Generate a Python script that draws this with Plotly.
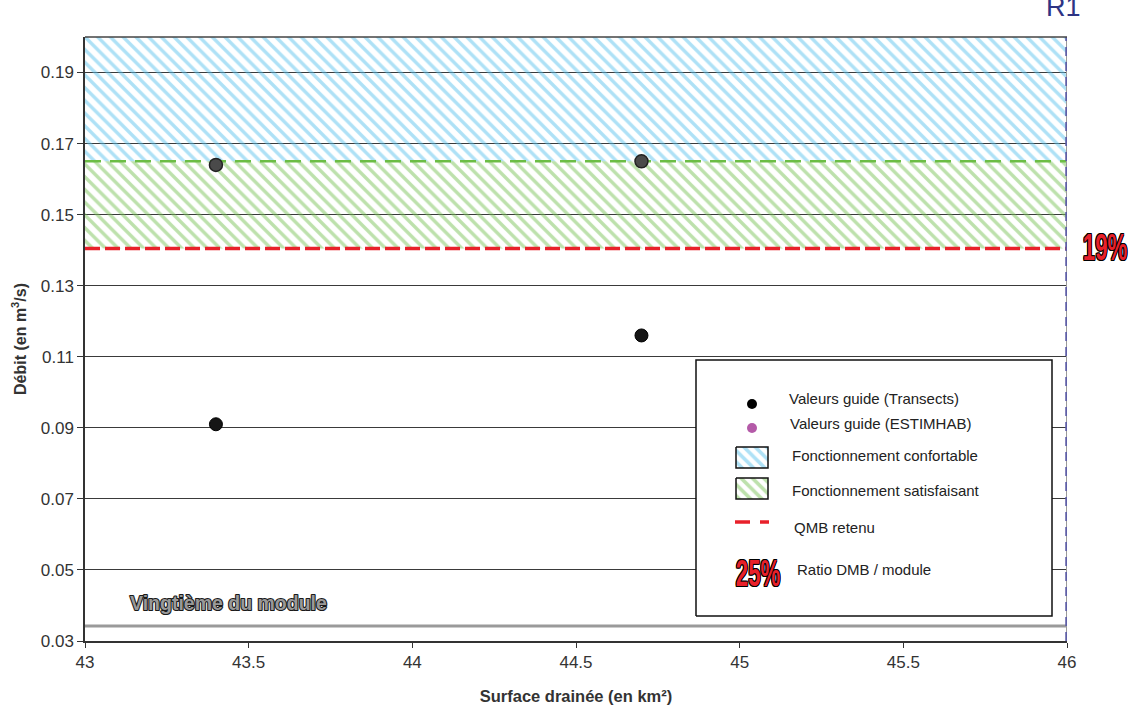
import plotly.graph_objects as go

# ---------------- data ----------------
surface = [43.4, 44.7]                 # km²
transects = [0.091, 0.116]             # m3/s
estimhab = [0.164, 0.165]              # m3/s
qmb_retenu = 0.1405                    # QMB retenu (bas bande verte)
seuil_satisfaisant = 0.165             # haut bande verte
seuil_confortable = 0.200              # haut bande bleue
vingtieme_module = 0.0342
x_range = [43, 46]
y_range = [0.03, 0.20]
x_ticks = [43, 43.5, 44, 44.5, 45, 45.5, 46]
x_tick_labels = ["43", "43.5", "44", "44.5", "45", "45.5", "46"]
y_ticks = [0.03, 0.05, 0.07, 0.09, 0.11, 0.13, 0.15, 0.17, 0.19]
y_tick_labels = ["0.03", "0.05", "0.07", "0.09", "0.11", "0.13", "0.15", "0.17", "0.19"]
ratio_label = "19%"
legend_ratio_label = "25%"
station_label = "R1"

# ---------------- layout geometry ----------------
W, H = 1140, 708
L, R, T, B = 85, 73, 37, 67
PW, PH = W - L - R, H - T - B


def dx(px):
    return (px - L) / PW


def dy(py):
    return (H - B - py) / PH


FONT = "Liberation Sans, Arial, sans-serif"
NARROW = "Liberation Sans, Arial, sans-serif"
OUTLINE = ("1px 0 0 #000, -1px 0 0 #000, 0 1px 0 #000, 0 -1px 0 #000, "
           "1px 1px 0 #000, -1px -1px 0 #000, 1px -1px 0 #000, -1px 1px 0 #000")

BLUE = "#5ec4ee"
GREEN = "#7cc35a"
RED = "#e8202a"

fig = go.Figure()

# bands
fig.add_trace(go.Scatter(
    x=[x_range[0], x_range[1], x_range[1], x_range[0], x_range[0]],
    y=[seuil_satisfaisant, seuil_satisfaisant, seuil_confortable, seuil_confortable, seuil_satisfaisant],
    fill="toself", mode="lines", line=dict(width=0), fillcolor="rgba(0,0,0,0)",
    fillpattern=dict(shape="\\", fgcolor=BLUE, bgcolor="rgba(0,0,0,0)", size=9, solidity=0.38),
    showlegend=False, hoverinfo="skip"))
fig.add_trace(go.Scatter(
    x=[x_range[0], x_range[1], x_range[1], x_range[0], x_range[0]],
    y=[qmb_retenu, qmb_retenu, seuil_satisfaisant, seuil_satisfaisant, qmb_retenu],
    fill="toself", mode="lines", line=dict(width=0), fillcolor="rgba(0,0,0,0)",
    fillpattern=dict(shape="\\", fgcolor=GREEN, bgcolor="rgba(0,0,0,0)", size=9, solidity=0.38),
    showlegend=False, hoverinfo="skip"))

# green dashed line (top of satisfying band)
fig.add_trace(go.Scatter(x=x_range, y=[seuil_satisfaisant] * 2, mode="lines",
                         line=dict(color="#6cbd45", width=2.5, dash="16px,9px"),
                         showlegend=False, hoverinfo="skip"))
# red dashed line (QMB retenu)
fig.add_trace(go.Scatter(x=x_range, y=[qmb_retenu] * 2, mode="lines",
                         line=dict(color=RED, width=3.5, dash="15px,5px"),
                         showlegend=False, hoverinfo="skip"))
# vingtième du module
fig.add_trace(go.Scatter(x=x_range, y=[vingtieme_module] * 2, mode="lines",
                         line=dict(color="#9a9a9a", width=3),
                         showlegend=False, hoverinfo="skip"))
# station vertical line
fig.add_trace(go.Scatter(x=[x_range[1]] * 2, y=[y_range[0] - 0.002, y_range[1]], mode="lines",
                         line=dict(color="#9a9a9a", width=2), cliponaxis=False,
                         showlegend=False, hoverinfo="skip"))
fig.add_trace(go.Scatter(x=[x_range[1]] * 2, y=[y_range[0], y_range[1]], mode="lines",
                         line=dict(color="#5e5ea6", width=3.5, dash="9px,6px"), cliponaxis=False,
                         showlegend=False, hoverinfo="skip"))

# points
fig.add_trace(go.Scatter(x=surface, y=transects, mode="markers", name="Valeurs guide (Transects)",
                         marker=dict(color="#151515", size=13, line=dict(color="#000", width=1)),
                         showlegend=False))
fig.add_trace(go.Scatter(x=surface, y=estimhab, mode="markers", name="Valeurs guide (ESTIMHAB)",
                         marker=dict(color="#4a4a4a", size=13, line=dict(color="#222", width=1.5)),
                         showlegend=False))

# ---------------- custom legend (overlay axes in domain fractions) ----------------
leg_x2 = "x2"
leg_y2 = "y2"
bx0, bx1, by0, by1 = dx(696), dx(1052), dy(616), dy(360)
fig.add_trace(go.Scatter(x=[bx0, bx1, bx1, bx0, bx0], y=[by0, by0, by1, by1, by0],
                         fill="toself", fillcolor="white", mode="lines",
                         line=dict(color="#111", width=1.5), xaxis=leg_x2, yaxis=leg_y2,
                         showlegend=False, hoverinfo="skip"))
fig.add_trace(go.Scatter(x=[dx(752)], y=[dy(404)], mode="markers", xaxis=leg_x2, yaxis=leg_y2,
                         marker=dict(color="#000", size=10), showlegend=False, hoverinfo="skip"))
fig.add_trace(go.Scatter(x=[dx(752)], y=[dy(428)], mode="markers", xaxis=leg_x2, yaxis=leg_y2,
                         marker=dict(color="#b45aa8", size=10), showlegend=False, hoverinfo="skip"))
for (top, bot, col) in [(447, 468, BLUE), (478, 499, GREEN)]:
    fig.add_trace(go.Scatter(
        x=[dx(736), dx(768), dx(768), dx(736), dx(736)],
        y=[dy(top), dy(top), dy(bot), dy(bot), dy(top)],
        fill="toself", mode="lines", line=dict(color="#111", width=1.5), fillcolor="rgba(0,0,0,0)",
        fillpattern=dict(shape="\\", fgcolor=col, bgcolor="rgba(0,0,0,0)", size=8, solidity=0.45),
        xaxis=leg_x2, yaxis=leg_y2, showlegend=False, hoverinfo="skip"))
for (a, b) in [(735, 750), (760, 769)]:
    fig.add_trace(go.Scatter(x=[dx(a), dx(b)], y=[dy(522)] * 2, mode="lines",
                             line=dict(color=RED, width=3.5), xaxis=leg_x2, yaxis=leg_y2,
                             showlegend=False, hoverinfo="skip"))

ann = []
leg_font = dict(family=FONT, size=15, color="#222")
for (txt, px, py) in [("Valeurs guide (Transects)", 787, 398),
                      ("Valeurs guide (ESTIMHAB)", 788, 423),
                      ("Fonctionnement confortable", 790, 455),
                      ("Fonctionnement satisfaisant", 790, 490),
                      ("QMB retenu", 792, 527),
                      ("Ratio DMB / module", 795, 569)]:
    ann.append(dict(text=txt, x=dx(px), y=dy(py), xref="paper", yref="paper",
                    xanchor="left", yanchor="middle", showarrow=False, font=leg_font))

ann.append(dict(text=legend_ratio_label, x=dx(758), y=dy(573), xref="paper", yref="paper",
                xanchor="center", yanchor="middle", showarrow=False,
                font=dict(family=NARROW, size=37, color=RED, weight="bold", shadow=OUTLINE)))
ann.append(dict(text=ratio_label, x=dx(1105), y=dy(248), xref="paper", yref="paper",
                xanchor="center", yanchor="middle", showarrow=False,
                font=dict(family=NARROW, size=37, color=RED, weight="bold", shadow=OUTLINE)))
ann.append(dict(text="Vingtième du module", x=dx(128), y=dy(603), xref="paper", yref="paper",
                xanchor="left", yanchor="middle", showarrow=False,
                font=dict(family=FONT, size=19.5, color="#999999", weight="bold")))
ann.append(dict(text=station_label, x=dx(1063), y=dy(24), xref="paper", yref="paper",
                xanchor="center", yanchor="bottom", showarrow=False,
                font=dict(family=FONT, size=27, color="#2d3484")))

fig.update_layout(
    width=W, height=H,
    margin=dict(l=L, r=R, t=T, b=B, pad=0, autoexpand=False),
    paper_bgcolor="white", plot_bgcolor="white",
    showlegend=False,
    font=dict(family=FONT, color="#333"),
    annotations=ann,
    xaxis=dict(range=x_range, tickvals=x_ticks, ticktext=x_tick_labels, automargin=False,
               showgrid=False, zeroline=False, showline=True, linecolor="#333", linewidth=1.5,
               mirror=False, ticks="outside", ticklen=5, tickcolor="#333",
               tickfont=dict(size=17, color="#333", family=FONT),
               title=dict(text="<b>Surface drainée (en km²)</b>", font=dict(size=16.5, color="#333"),
                          standoff=19)),
    yaxis=dict(range=y_range, tickvals=y_ticks, ticktext=y_tick_labels, automargin=False,
               showgrid=True, gridcolor="#3a3a3a", gridwidth=1, zeroline=False,
               showline=True, linecolor="#333", linewidth=1.5,
               ticks="outside", ticklen=6, tickcolor="#333",
               tickfont=dict(size=17, color="#333", family=FONT),
               title=dict(text="<b>Débit (en m<sup>3</sup>/s)</b>", font=dict(size=16, color="#333"),
                          standoff=10)),
    xaxis2=dict(overlaying="x", range=[0, 1], visible=False, fixedrange=True),
    yaxis2=dict(overlaying="y", range=[0, 1], visible=False, fixedrange=True),
    shapes=[dict(type="line", xref="paper", yref="paper", x0=0, x1=1, y0=1, y1=1,
                 line=dict(color="#444", width=1.5), layer="above")],
)

# remove the default page margin, narrow the bold percentage labels, outline the grey label
post = """
document.body.style.margin = '0';
document.body.style.padding = '0';
var gd = document.getElementsByClassName('plotly-graph-div')[0];
function restyle() {
  var els = gd.querySelectorAll('.annotation-text');
  els.forEach(function (t) {
    var s = t.textContent;
    if (s === '19%' || s === '25%') {
      t.style.transformBox = 'fill-box';
      t.style.transformOrigin = 'center';
      t.style.transform = 'scaleX(0.6)';
    }
    if (s === 'Vingtième du module') {
      t.style.stroke = '#1a1a1a';
      t.style.strokeWidth = '2.2px';
      t.style.paintOrder = 'stroke';
      t.style.strokeLinejoin = 'round';
    }
  });
}
restyle();
gd.on('plotly_afterplot', restyle);
"""

fig.write_html("out.html", post_script=post, config={"displayModeBar": False})
